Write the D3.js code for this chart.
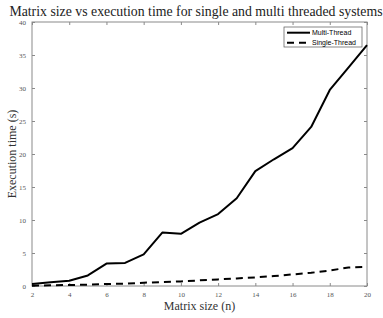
<!DOCTYPE html>
<html>
<head>
<meta charset="utf-8">
<script src="https://d3js.org/d3.v7.min.js"></script>
<style>
  body { margin: 0; background: #fff; }
  svg { display: block; }
</style>
</head>
<body>
<div id="chart"></div>
<script>
// data
const matrixSize = [2, 3, 4, 5, 6, 7, 8, 9, 10, 11, 12, 13, 14, 15, 16, 17, 18, 19, 20];
const multiThread = [0.3, 0.55, 0.8, 1.6, 3.4, 3.5, 4.8, 8.1, 7.9, 9.6, 10.9, 13.3, 17.4, 19.2, 20.9, 24.1, 29.7, 33.1, 36.5];
const singleThread = [0.05, 0.1, 0.15, 0.2, 0.3, 0.35, 0.5, 0.6, 0.7, 0.85, 1.0, 1.15, 1.3, 1.5, 1.75, 2.0, 2.35, 2.8, 2.9];
const xTicks = [2, 4, 6, 8, 10, 12, 14, 16, 18, 20];
const yTicks = [0, 5, 10, 15, 20, 25, 30, 35, 40];
const seriesNames = ["Multi-Thread", "Single-Thread"];

const W = 383, H = 318;
const plotL = 32, plotR = 367, plotT = 22, plotB = 286;
const serif = "'Liberation Serif', 'DejaVu Serif', serif";
const axisGrey = "#8a8a8a";

const svg = d3.select("#chart").append("svg")
    .attr("width", W)
    .attr("height", H);

const x = d3.scaleLinear().domain([2, 20]).range([plotL, plotR]);
const y = d3.scaleLinear().domain([0, 40]).range([plotB, plotT]);

// box
svg.append("rect")
    .attr("x", plotL).attr("y", plotT)
    .attr("width", plotR - plotL).attr("height", plotB - plotT)
    .attr("fill", "none").attr("stroke", axisGrey).attr("stroke-width", 1);

// axes (ticks pointing inward, mirrored on top/right)
function styleAxis(g) {
  g.select(".domain").remove();
  g.selectAll(".tick line").attr("stroke", axisGrey);
  g.selectAll(".tick text")
    .attr("fill", "#555")
    .style("font-family", serif)
    .style("font-size", "7px");
}

svg.append("g")
    .attr("transform", "translate(0," + plotB + ")")
    .call(d3.axisBottom(x).tickValues(xTicks).tickSizeInner(-3).tickSizeOuter(0).tickPadding(6))
    .call(styleAxis);

svg.append("g")
    .attr("transform", "translate(0," + plotT + ")")
    .call(d3.axisTop(x).tickValues(xTicks).tickSizeInner(-3).tickSizeOuter(0).tickFormat(""))
    .call(styleAxis);

svg.append("g")
    .attr("transform", "translate(" + plotL + ",0)")
    .call(d3.axisLeft(y).tickValues(yTicks).tickSizeInner(-3).tickSizeOuter(0).tickPadding(6))
    .call(styleAxis);

svg.append("g")
    .attr("transform", "translate(" + plotR + ",0)")
    .call(d3.axisRight(y).tickValues(yTicks).tickSizeInner(-3).tickSizeOuter(0).tickFormat(""))
    .call(styleAxis);

// lines
const line = d3.line()
    .x((d, i) => x(matrixSize[i]))
    .y(d => y(d));

svg.append("path")
    .datum(multiThread)
    .attr("d", line)
    .attr("fill", "none")
    .attr("stroke", "#000")
    .attr("stroke-width", 2)
    .attr("stroke-linejoin", "round");

svg.append("path")
    .datum(singleThread)
    .attr("d", line)
    .attr("fill", "none")
    .attr("stroke", "#000")
    .attr("stroke-width", 2)
    .attr("stroke-dasharray", "7,5");

// titles
svg.append("text")
    .attr("x", 196)
    .attr("y", 16)
    .attr("text-anchor", "middle")
    .attr("fill", "#222")
    .style("font-family", serif)
    .style("font-size", "13.8px")
    .text("Matrix size vs execution time for single and multi threaded systems");

svg.append("text")
    .attr("x", (plotL + plotR) / 2)
    .attr("y", 310)
    .attr("text-anchor", "middle")
    .attr("fill", "#333")
    .style("font-family", serif)
    .style("font-size", "12px")
    .text("Matrix size (n)");

svg.append("text")
    .attr("transform", "translate(16," + ((plotT + plotB) / 2) + ") rotate(-90)")
    .attr("text-anchor", "middle")
    .attr("fill", "#333")
    .style("font-family", serif)
    .style("font-size", "12px")
    .text("Execution time (s)");

// legend
const lg = svg.append("g");
lg.append("rect")
    .attr("x", 284).attr("y", 27)
    .attr("width", 78).attr("height", 20)
    .attr("fill", "#fff").attr("stroke", "#555").attr("stroke-width", 0.7);

seriesNames.forEach((name, i) => {
  const ly = 32.7 + i * 10;
  lg.append("line")
      .attr("x1", 287).attr("x2", 310)
      .attr("y1", ly).attr("y2", ly)
      .attr("stroke", "#000").attr("stroke-width", 2)
      .attr("stroke-dasharray", i === 1 ? "7,5" : null);
  lg.append("text")
      .attr("x", 312).attr("y", ly + 2.5)
      .style("font-family", "'Liberation Sans', Arial, sans-serif")
      .style("font-size", "7px")
      .text(name);
});
</script>
</body>
</html>
